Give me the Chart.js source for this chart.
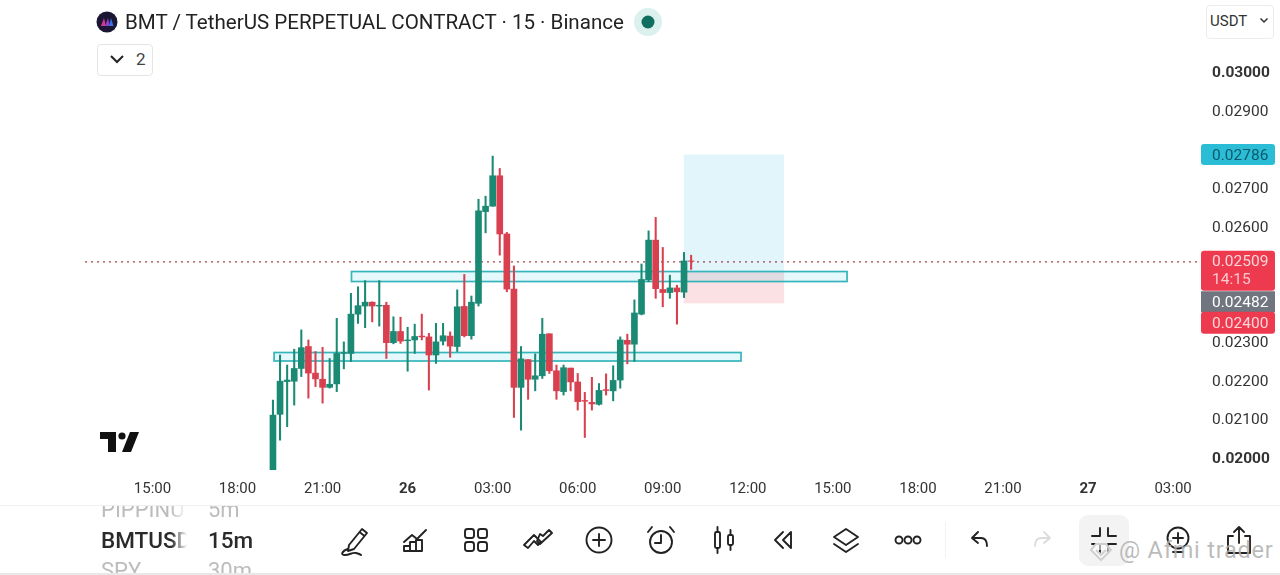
<!DOCTYPE html>
<html>
<head>
<meta charset="utf-8">
<script src="https://cdn.jsdelivr.net/npm/chart.js@4"></script>
<style>
  html, body { margin: 0; padding: 0; background: #fff; }
  body { width: 1280px; height: 575px; position: relative; overflow: hidden; font-family: Roboto, sans-serif; color: #1f1f1f; }
  #chart { position: absolute; left: 0; top: 0; }
  .abs { position: absolute; white-space: nowrap; }
  .icon { position: absolute; top: 524px; width: 32px; height: 32px; fill: none; stroke: #222; stroke-width: 1.9; stroke-linecap: round; stroke-linejoin: round; }
</style>
</head>
<body>
<canvas id="chart" width="1280" height="505" style="width:1280px;height:505px"></canvas>

<!-- header -->
<svg class="abs" style="left:96px;top:11px" width="22" height="22" viewBox="0 0 22 22">
  <circle cx="11" cy="11" r="10.5" fill="#1b1633"/>
  <path d="M5 15 L8 7 L10 15 Z" fill="#d23a8c"/><path d="M9 15 L12 7 L14 15 Z" fill="#8a3fd0"/><path d="M13 15 L15 7 L17.5 15 Z" fill="#3f6fe0"/>
</svg>
<div class="abs" id="title" style="left:125px;top:10px;font-size:20.55px;line-height:24px;color:#222">BMT / TetherUS PERPETUAL CONTRACT · 15 · Binance</div>
<svg class="abs" style="left:634px;top:8px" width="28" height="28"><circle cx="14" cy="14" r="14" fill="#dcf1ed"/><circle cx="14" cy="14" r="6.5" fill="#0f6e5e"/></svg>
<div class="abs" style="left:97px;top:44px;width:54px;height:30px;border:1px solid #e4e4e4;border-radius:4px;background:#fff"></div>
<svg class="abs" style="left:108px;top:52px" width="18" height="14"><path d="M3 4 L9 10 L15 4" fill="none" stroke="#222" stroke-width="2"/></svg>
<div class="abs" style="left:136px;top:48px;font-size:17px;line-height:22px;color:#444">2</div>
<div class="abs" style="left:1206px;top:5px;width:66px;height:32px;border:1px solid #ececec;border-radius:4px;background:#fff"></div>
<div class="abs" style="left:1210px;top:11px;font-size:15px;line-height:20px;color:#333">USDT</div>
<svg class="abs" style="left:1259px;top:17px" width="10" height="8"><path d="M1.5 1.5 L5 5 L8.5 1.5" fill="none" stroke="#333" stroke-width="1.5"/></svg>

<!-- chart logo -->
<svg class="abs" style="left:100px;top:432px" width="40" height="21" viewBox="0 0 40 21">
  <path d="M0 0 H16 V20 H8 V7 H0 Z M30 0 H39 L31 20 H22 Z" fill="#111"/><circle cx="22" cy="4" r="3.6" fill="#111"/>
</svg>

<!-- bottom bar -->
<div class="abs" style="left:0;top:505px;width:1280px;height:1px;background:#f0f0f0"></div>
<div class="abs" style="left:0;top:573px;width:1280px;height:2px;background:#e8e8e8"></div>
<div class="abs" style="left:101px;top:506px;width:86px;height:67px;overflow:hidden">
  <div class="abs" style="left:0;top:-8px;font-size:22px;line-height:24px;color:#bcbcbc">PIPPINUSDT</div>
  <div class="abs" style="left:0;top:22px;font-size:22.5px;line-height:24px;color:#2a2a2a;font-weight:500">BMTUSDT</div>
  <div class="abs" style="left:0;top:53px;font-size:22px;line-height:24px;color:#bcbcbc">SPY</div>
  <div class="abs" style="left:70px;top:0;width:16px;height:67px;background:linear-gradient(to right, rgba(255,255,255,0), #fff)"></div>
</div>
<div class="abs" style="left:208px;top:506px;width:60px;height:67px;overflow:hidden">
  <div class="abs" style="left:0;top:-8px;font-size:22px;line-height:24px;color:#bcbcbc">5m</div>
  <div class="abs" style="left:0;top:22px;font-size:22.5px;line-height:24px;color:#2a2a2a;font-weight:500">15m</div>
  <div class="abs" style="left:0;top:53px;font-size:22px;line-height:24px;color:#bcbcbc">30m</div>
</div>

<svg class="icon" style="left:338px" viewBox="0 0 32 32"><path d="M11 21 L24 5 L29 9 L16 25 L10 27 Z M21.5 8 L26.5 12"/><path d="M10 25 C4 27 2 31 7 31 C12 31 14 28 18 29 C20 29.500 22 30 23 31"/></svg>
<svg class="icon" style="left:399px" viewBox="0 0 32 32"><path d="M5 18 L13 11 L18 15 L27 6"/><path d="M5 27 V22 H11 V27 Z M11 27 V18 H17 V27 M17 27 V16 H23 V27 H5"/></svg>
<svg class="icon" style="left:460px" viewBox="0 0 32 32"><rect x="5" y="5" width="9" height="9" rx="2.500"/><rect x="18" y="5" width="9" height="9" rx="2.500"/><rect x="5" y="18" width="9" height="9" rx="2.500"/><rect x="18" y="18" width="9" height="9" rx="2.500"/></svg>
<svg class="icon" style="left:522px" viewBox="0 0 32 32"><path d="M2 21 L12 11 L19 18 L16 21 L12 17 L6 24 Z"/><path d="M15 17 L18 20 L30 9 L27 6 L21 12 L18 10 Z"/></svg>
<svg class="icon" style="left:583px" viewBox="0 0 32 32"><circle cx="16" cy="16" r="12.500"/><path d="M16 10 V22 M10 16 H22"/></svg>
<svg class="icon" style="left:644px" viewBox="0 0 32 32"><circle cx="17" cy="18" r="11"/><path d="M17 11 V19 H11 M4 8 L8 3 M26 3 L30 8"/></svg>
<svg class="icon" style="left:708px" viewBox="0 0 32 32"><rect x="7" y="8" width="5" height="16" rx="1.500"/><rect x="20" y="11" width="5" height="10" rx="1.500"/><path d="M9.500 3 V8 M9.500 24 V29 M22.500 6 V11 M22.500 21 V26"/></svg>
<svg class="icon" style="left:768px" viewBox="0 0 32 32"><path d="M15 8 L7 16 L15 24 M23 8 L15 16 L23 24 Z"/></svg>
<svg class="icon" style="left:830px" viewBox="0 0 32 32"><path d="M16 5 L28 13 L16 21 L4 13 Z M4 20 L16 28 L28 20"/></svg>
<svg class="icon" style="left:892px" viewBox="0 0 32 32"><circle cx="7" cy="16" r="3.500"/><circle cx="16" cy="16" r="3.500"/><circle cx="25" cy="16" r="3.500"/></svg>
<div class="abs" style="left:945px;top:522px;width:1px;height:36px;background:#f2f2f2"></div>
<svg class="icon" style="left:964px" viewBox="0 0 32 32"><path d="M14 8 L8 14 L14 19 M8 14 H17 C21 14 23 17 23 22"/></svg>
<svg class="icon" style="left:1026px;stroke:#dcdcdc" viewBox="0 0 32 32"><path d="M18 8 L24 14 L18 19 M24 14 H15 C11 14 9 17 9 22"/></svg>
<div class="abs" style="left:1079px;top:515px;width:50px;height:51px;border-radius:9px;background:#f3f3f3"></div>
<svg class="icon" style="left:1088px" viewBox="0 0 32 32"><path d="M12 4 V12 H4 M20 4 V12 H28 M12 28 V20 H4 M20 28 V20 H28"/></svg>
<svg class="icon" style="left:1162px" viewBox="0 0 32 32"><circle cx="16" cy="14" r="10.500"/><path d="M16 9 V19 M11 14 H21 M11 28 H21"/></svg>
<svg class="icon" style="left:1223px" viewBox="0 0 32 32"><path d="M16 19 V3 M11 8 L16 3 L21 8 M10 12 H5 V29 H27 V12 H22"/></svg>
<svg class="abs" style="left:1088px;top:538px" width="26" height="26" viewBox="0 0 26 26"><path d="M13 22 L3 12 L8 6 H18 L23 12 Z M8 12 L13 17 L18 12" fill="rgba(255,255,255,.55)" stroke="#cfcfcf" stroke-width="2"/></svg>
<div class="abs" style="left:1119px;top:537px;font-size:23.5px;line-height:27px;color:rgba(175,175,175,.85);letter-spacing:.8px">@ Afmi trader</div>

<script>
// time axis, hours counted from 00:00 on the 25th
const tickHours = [15, 18, 21, 24, 27, 30, 33, 36, 39, 42, 45, 48, 51];
const tickLabels = ['15:00', '18:00', '21:00', '26', '03:00', '06:00', '09:00', '12:00', '15:00', '18:00', '21:00', '27', '03:00'];
const boldLabels = ['26', '27'];

// price axis
const priceTicks = [0.03, 0.029, 0.027, 0.026, 0.023, 0.022, 0.021, 0.02];
const boldPrices = [0.03, 0.02];

// 15 minute candles starting at 19:15
const firstHour = 19.25;
const opens = [
  0.01968, 0.02112, 0.02197, 0.02198, 0.02231, 0.02288, 0.02219, 0.02203, 0.02182, 0.02191,
  0.02270, 0.02270, 0.02372, 0.02393, 0.02403, 0.02393, 0.02395, 0.02298, 0.02327, 0.02303,
  0.02305, 0.02315, 0.02313, 0.02266, 0.02302, 0.02315, 0.02288, 0.02392, 0.02316, 0.02400,
  0.02638, 0.02652, 0.02731, 0.02580, 0.02437, 0.02182, 0.02254, 0.02203, 0.02212, 0.02321,
  0.02225, 0.02171, 0.02232, 0.02196, 0.02148, 0.02143, 0.02138, 0.02176, 0.02173, 0.02201,
  0.02304, 0.02294, 0.02372, 0.02461, 0.02564, 0.02436, 0.02428, 0.02440, 0.02429, 0.02510
];
const highs = [
  0.02149, 0.02266, 0.02240, 0.02281, 0.02331, 0.02305, 0.02275, 0.02286, 0.02257, 0.02361,
  0.02300, 0.02426, 0.02443, 0.02459, 0.02404, 0.02459, 0.02403, 0.02365, 0.02364, 0.02338,
  0.02346, 0.02372, 0.02322, 0.02348, 0.02348, 0.02326, 0.02435, 0.02475, 0.02419, 0.02670,
  0.02678, 0.02782, 0.02750, 0.02584, 0.02497, 0.02288, 0.02254, 0.02269, 0.02361, 0.02321,
  0.02240, 0.02240, 0.02232, 0.02218, 0.02169, 0.02208, 0.02192, 0.02217, 0.02238, 0.02313,
  0.02320, 0.02409, 0.02502, 0.02588, 0.02623, 0.02545, 0.02473, 0.02447, 0.02532, 0.02525
];
const lows = [
  0.01968, 0.02045, 0.02080, 0.02136, 0.02210, 0.02154, 0.02184, 0.02141, 0.02180, 0.02171,
  0.02230, 0.02249, 0.02348, 0.02337, 0.02352, 0.02341, 0.02257, 0.02295, 0.02296, 0.02224,
  0.02270, 0.02305, 0.02175, 0.02244, 0.02292, 0.02260, 0.02275, 0.02313, 0.02307, 0.02393,
  0.02583, 0.02652, 0.02525, 0.02430, 0.02104, 0.02071, 0.02151, 0.02173, 0.02205, 0.02218,
  0.02151, 0.02162, 0.02173, 0.02123, 0.02052, 0.02123, 0.02136, 0.02162, 0.02147, 0.02180,
  0.02243, 0.02249, 0.02370, 0.02456, 0.02413, 0.02391, 0.02413, 0.02346, 0.02415, 0.02488
];
const closes = [
  0.02110, 0.02198, 0.02201, 0.02231, 0.02285, 0.02219, 0.02204, 0.02182, 0.02190, 0.02270,
  0.02272, 0.02372, 0.02394, 0.02403, 0.02393, 0.02395, 0.02298, 0.02327, 0.02302, 0.02305,
  0.02314, 0.02313, 0.02266, 0.02300, 0.02316, 0.02289, 0.02391, 0.02316, 0.02403, 0.02640,
  0.02652, 0.02731, 0.02580, 0.02437, 0.02182, 0.02256, 0.02203, 0.02212, 0.02320, 0.02225,
  0.02173, 0.02233, 0.02196, 0.02145, 0.02146, 0.02139, 0.02174, 0.02174, 0.02200, 0.02305,
  0.02294, 0.02375, 0.02462, 0.02564, 0.02438, 0.02428, 0.02440, 0.02430, 0.02510, 0.02509
];

// drawings on the chart: [startHour, endHour, top price, bottom price]
const zones = [
  [22.02, 39.5, 0.024825, 0.024566],
  [19.29, 35.76, 0.022724, 0.022504]
];
const longBox = [33.74, 37.28];
const targetPrice = 0.02786;
const entryPrice = 0.02482;
const stopPrice = 0.024;
const lastPrice = 0.02509;
const countdown = '14:15';

const green = '#1b8a74';
const red = '#d9404f';
const candleColors = opens.map((o, i) => (closes[i] >= o ? green : red));
const hours = opens.map((o, i) => firstHour + i * 0.25);

const drawingsPlugin = {
  id: 'drawings',
  beforeDatasetsDraw(chart) {
    const { ctx, scales: { x, y }, chartArea } = chart;
    ctx.save();
    const left = x.getPixelForValue(longBox[0]);
    const right = x.getPixelForValue(longBox[1]);
    ctx.fillStyle = '#e2f5fa';
    ctx.fillRect(left, y.getPixelForValue(targetPrice), right - left, y.getPixelForValue(entryPrice) - y.getPixelForValue(targetPrice));
    ctx.fillStyle = '#fbe0e4';
    ctx.fillRect(left, y.getPixelForValue(entryPrice), right - left, y.getPixelForValue(stopPrice) - y.getPixelForValue(entryPrice));

    zones.forEach((z) => {
      const zx = x.getPixelForValue(z[0]);
      const zy = y.getPixelForValue(z[2]);
      const w = x.getPixelForValue(z[1]) - zx;
      const h = y.getPixelForValue(z[3]) - zy;
      ctx.fillStyle = 'rgba(0, 188, 212, 0.1)';
      ctx.fillRect(zx, zy, w, h);
      ctx.strokeStyle = '#35b5bb';
      ctx.lineWidth = 1.7;
      ctx.strokeRect(zx, zy, w, h);
    });

    // last price line
    ctx.strokeStyle = '#a8414b';
    ctx.lineWidth = 1.4;
    ctx.setLineDash([2, 4]);
    ctx.beginPath();
    ctx.moveTo(chartArea.left, y.getPixelForValue(lastPrice) + 0.5);
    ctx.lineTo(chartArea.right, y.getPixelForValue(lastPrice) + 0.5);
    ctx.stroke();
    ctx.restore();
  },
  afterDraw(chart) {
    const { ctx, scales: { y } } = chart;
    const tag = (top, h, bg, radius) => {
      ctx.fillStyle = bg;
      ctx.beginPath();
      ctx.roundRect(1201, top, 74, h, radius);
      ctx.fill();
    };
    const label = (text, cy, color) => {
      ctx.fillStyle = color;
      ctx.fillText(text, 1212, cy + 1);
    };
    ctx.save();
    ctx.font = '15.5px Roboto';
    ctx.textBaseline = 'middle';
    ctx.textAlign = 'left';
    const ty = y.getPixelForValue(targetPrice);
    tag(ty - 10.5, 21, '#2bbcd6', 3);
    label(targetPrice.toFixed(5), ty + 0.5, '#0b5a6c');
    const ly = y.getPixelForValue(lastPrice);
    tag(ly - 10.5, 40, '#ee3a4f', 3);
    label(lastPrice.toFixed(5), ly, '#fbd5da');
    label(countdown, ly + 18, '#fbc9cf');
    // these two tags are pushed down so they stack under the last price tag
    const ey = y.getPixelForValue(entryPrice);
    tag(ey + 19.5, 21, '#70757f', 0);
    label(entryPrice.toFixed(5), ey + 30, '#ffffff');
    const sy = y.getPixelForValue(stopPrice);
    tag(sy + 8.5, 22, '#ee3a4f', 3);
    label(stopPrice.toFixed(5), sy + 19.5, '#fbd5da');
    ctx.restore();
  }
};

new Chart(document.getElementById('chart'), {
  type: 'bar',
  data: {
    datasets: [
      {
        label: 'body',
        data: hours.map((h, i) => ({ x: h, y: [opens[i], closes[i]] })),
        backgroundColor: candleColors,
        barThickness: 6,
        grouped: false
      },
      {
        label: 'wick',
        data: hours.map((h, i) => ({ x: h, y: [lows[i], highs[i]] })),
        backgroundColor: candleColors,
        barThickness: 1.4,
        grouped: false
      }
    ]
  },
  options: {
    responsive: false,
    animation: false,
    layout: { padding: { left: 85 } },
    plugins: { legend: { display: false }, tooltip: { enabled: false } },
    scales: {
      x: {
        type: 'linear',
        offset: false,
        min: 12.62,
        max: 51.95,
        grid: { display: false, drawTicks: false },
        border: { display: false },
        afterBuildTicks: (axis) => { axis.ticks = tickHours.map((v) => ({ value: v })); },
        afterFit: (axis) => { axis.height = 35; axis.paddingLeft = 0; axis.paddingRight = 0; },
        ticks: {
          autoSkip: false,
          maxRotation: 0,
          padding: 10,
          color: '#333',
          font: (c) => ({ family: 'Roboto', size: 15, weight: boldLabels.includes(tickLabels[c.index]) ? 'bold' : 'normal' }),
          callback: (v, i) => tickLabels[i]
        }
      },
      y: {
        position: 'right',
        min: 0.019676,
        max: 0.03187,
        grid: { display: false, drawTicks: false },
        border: { display: false },
        afterBuildTicks: (axis) => { axis.ticks = priceTicks.map((v) => ({ value: v })); },
        afterFit: (axis) => { axis.width = 80; axis.paddingTop = 0; axis.paddingBottom = 0; },
        ticks: {
          autoSkip: false,
          padding: 12,
          labelOffset: 1.5,
          color: '#333',
          font: (c) => ({ family: 'Roboto', size: 15.5, weight: c.tick && boldPrices.includes(c.tick.value) ? 'bold' : 'normal' }),
          callback: (v) => v.toFixed(5)
        }
      }
    }
  },
  plugins: [drawingsPlugin]
});
</script>
</body>
</html>
